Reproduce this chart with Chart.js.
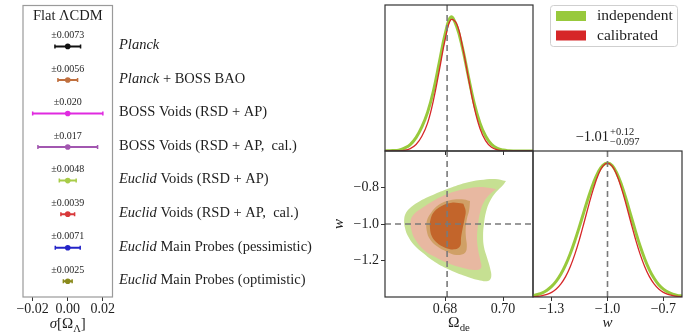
<!DOCTYPE html>
<html>
<head>
<meta charset="utf-8">
<script src="https://cdn.jsdelivr.net/npm/chart.js@4.4.0/dist/chart.umd.min.js"></script>
<style>
  body { margin: 0; background: #fff; }
  #wrap { position: relative; width: 684px; height: 336px; }
  #wrap canvas { position: absolute; left: 0; top: 0; }
</style>
</head>
<body>
<div id="wrap">
  <canvas id="summary" width="684" height="336"></canvas>
  <canvas id="omegaPdf" width="684" height="336"></canvas>
  <canvas id="contour" width="684" height="336"></canvas>
  <canvas id="wPdf" width="684" height="336"></canvas>
</div>
<script>
// Left panel: 1-sigma forecasts on Omega_Lambda
const probeItalic = ['Planck', 'Planck', '', '', 'Euclid', 'Euclid', 'Euclid', 'Euclid'];
const probeRest = ['', ' + BOSS BAO', 'BOSS Voids (RSD + AP)', 'BOSS Voids (RSD + AP,  cal.)',
  ' Voids (RSD + AP)', ' Voids (RSD + AP,  cal.)', ' Main Probes (pessimistic)', ' Main Probes (optimistic)'];
const sigmaOmegaL = [0.0073, 0.0056, 0.020, 0.017, 0.0048, 0.0039, 0.0071, 0.0025];
const sigmaText = ['±0.0073', '±0.0056', '±0.020', '±0.017', '±0.0048', '±0.0039', '±0.0071', '±0.0025'];
const probeColors = ['#111111', '#c0703f', '#e02ae0', '#a257b0', '#a8cc48', '#d8383a', '#2424c8', '#8a8a1c'];
const summaryTicks = [-0.02, 0.00, 0.02];

// Corner plot: 1D posteriors
const seriesLabels = ['independent', 'calibrated'];
const seriesColors = ['#98c93c', '#d62728'];
const omegaGrid = [0.658, 0.660, 0.662, 0.664, 0.666, 0.668, 0.670, 0.672, 0.674, 0.676, 0.678, 0.680, 0.682, 0.684,
  0.686, 0.688, 0.690, 0.692, 0.694, 0.696, 0.698, 0.700, 0.702, 0.704, 0.706, 0.708, 0.710, 0.712];
const omegaIndependent = [0, 0.001, 0.003, 0.006, 0.022, 0.048, 0.10, 0.18, 0.29, 0.45, 0.66, 0.87, 1.00, 0.93,
  0.77, 0.56, 0.36, 0.21, 0.11, 0.05, 0.02, 0.007, 0.002, 0.0005, 0, 0, 0, 0];
const omegaCalibrated = [0, 0, 0, 0.001, 0.005, 0.018, 0.048, 0.11, 0.21, 0.38, 0.60, 0.83, 0.98, 0.95,
  0.78, 0.55, 0.33, 0.17, 0.075, 0.028, 0.009, 0.002, 0, 0, 0, 0, 0, 0];
const wGrid = [-1.400, -1.375, -1.350, -1.325, -1.300, -1.275, -1.250, -1.225, -1.200, -1.175, -1.150,
  -1.125, -1.100, -1.075, -1.050, -1.025, -1.000, -0.975, -0.950, -0.925, -0.900, -0.875, -0.850,
  -0.825, -0.800, -0.775, -0.750, -0.725, -0.700, -0.675, -0.650, -0.625, -0.600];
const wIndependent = [0.011, 0.019, 0.031, 0.051, 0.079, 0.118, 0.171, 0.239, 0.323, 0.421, 0.529,
  0.643, 0.754, 0.853, 0.932, 0.983, 1.000, 0.981, 0.924, 0.838, 0.730, 0.611, 0.492,
  0.381, 0.284, 0.203, 0.140, 0.092, 0.059, 0.036, 0.021, 0.012, 0.007];
const wCalibrated = [0.003, 0.005, 0.011, 0.020, 0.035, 0.060, 0.098, 0.152, 0.226, 0.320, 0.433,
  0.560, 0.690, 0.811, 0.911, 0.977, 1.000, 0.977, 0.911, 0.811, 0.690, 0.560, 0.433,
  0.320, 0.226, 0.152, 0.098, 0.060, 0.035, 0.020, 0.011, 0.005, 0.003];
const wSummary = ['−1.01', '+0.12', '−0.097'];

// Corner plot: axes
const omegaTicks = [0.68, 0.70];
const wTicks2D = [-1.2, -1.0, -0.8];
const wTicks = [-1.3, -1.0, -0.7];
const fiducialOmega = 0.6807;
const fiducialW = -1.0;

// Corner plot: 2D contour outlines (Omega_de, w)
const indep95Omega = [0.7010, 0.6972, 0.6921, 0.6869, 0.6817, 0.6765, 0.6714, 0.6683, 0.6665, 0.6659, 0.6662,
  0.6672, 0.6693, 0.6724, 0.6765, 0.6817, 0.6869, 0.6914, 0.6948, 0.6959, 0.6955, 0.6945, 0.6934, 0.6931,
  0.6934, 0.6941, 0.6955, 0.6976, 0.7000];
const indep95W = [-0.764, -0.753, -0.759, -0.775, -0.803, -0.836, -0.874, -0.907, -0.940, -0.978, -1.022,
  -1.066, -1.115, -1.159, -1.208, -1.252, -1.285, -1.307, -1.312, -1.290, -1.241, -1.186, -1.126, -1.066,
  -1.000, -0.934, -0.874, -0.825, -0.786];
const cal95Omega = [0.6976, 0.6921, 0.6869, 0.6817, 0.6765, 0.6721, 0.6693, 0.6681, 0.6684, 0.6696, 0.6731,
  0.6772, 0.6817, 0.6862, 0.6903, 0.6924, 0.6921, 0.6914, 0.6910, 0.6914, 0.6921, 0.6934, 0.6955];
const cal95W = [-0.808, -0.797, -0.808, -0.830, -0.868, -0.912, -0.945, -0.984, -1.033, -1.082, -1.148,
  -1.186, -1.219, -1.241, -1.252, -1.241, -1.197, -1.142, -1.077, -1.000, -0.934, -0.879, -0.836];
const indep68Omega = [0.6886, 0.6857, 0.6817, 0.6777, 0.6752, 0.6737, 0.6737, 0.6748, 0.6771, 0.6806, 0.6840,
  0.6869, 0.6875, 0.6872, 0.6871, 0.6875, 0.6883];
const indep68W = [-0.874, -0.865, -0.870, -0.896, -0.938, -0.984, -1.038, -1.084, -1.121, -1.152, -1.170,
  -1.157, -1.121, -1.075, -1.029, -0.974, -0.925];
const cal68Omega = [0.6863, 0.6823, 0.6788, 0.6763, 0.6750, 0.6748, 0.6754, 0.6771, 0.6800, 0.6834, 0.6852,
  0.6855, 0.6860, 0.6867, 0.6871];
const cal68W = [-0.889, -0.883, -0.901, -0.932, -0.974, -1.020, -1.066, -1.102, -1.130, -1.139, -1.121,
  -1.075, -1.029, -0.974, -0.929];

const SERIF = '"Liberation Serif", "Times New Roman", serif';
const INK = '#1e1e1e';
const tickFont = { family: SERIF, size: 14 };
const fmt = (v, d) => (v < 0 ? '−' : '') + Math.abs(v).toFixed(d);

function fontOf(size, italic) {
  return (italic ? 'italic ' : '') + size + 'px ' + SERIF;
}

// parts: [text, kind] with kind 'n' (roman), 'i' (italic) or 'sub'
function drawRich(ctx, parts, x, y, size, align) {
  const sizes = parts.map(p => p[1] === 'sub' ? size * 0.7 : size);
  let total = 0;
  const widths = parts.map((p, i) => {
    ctx.font = fontOf(sizes[i], p[1] === 'i');
    const w = ctx.measureText(p[0]).width;
    total += w;
    return w;
  });
  let cx = align === 'left' ? x : x - total / 2;
  ctx.textAlign = 'left';
  parts.forEach((p, i) => {
    ctx.font = fontOf(sizes[i], p[1] === 'i');
    ctx.fillText(p[0], cx, p[1] === 'sub' ? y + size * 0.25 : y);
    cx += widths[i];
  });
}

const framePlugin = {
  id: 'frame',
  afterDraw(chart, args, opts) {
    const { ctx, chartArea: a } = chart;
    ctx.save();
    ctx.strokeStyle = opts.color || '#333';
    ctx.lineWidth = opts.width || 1;
    ctx.strokeRect(a.left, a.top, a.right - a.left, a.bottom - a.top);
    ctx.restore();
  }
};
Chart.register(framePlugin);

function fixedTicks(values) {
  return scale => { scale.ticks = values.map(v => ({ value: v })); };
}

function xAxis(min, max, ticks, height, showLabels, decimals) {
  return {
    type: 'linear', min, max,
    afterBuildTicks: fixedTicks(ticks),
    afterFit: scale => { scale.height = height; },
    ticks: { display: showLabels, font: tickFont, color: INK, padding: 0, maxRotation: 0, autoSkip: false,
      callback: v => fmt(v, decimals) },
    grid: { drawOnChartArea: false, tickLength: 4, color: '#333' },
    border: { display: false }
  };
}

function baseOptions(padding, frameColor) {
  return {
    responsive: false,
    animation: false,
    events: [],
    devicePixelRatio: 1,
    layout: { padding },
    plugins: { legend: { display: false }, tooltip: { enabled: false }, frame: { color: frameColor, width: 1.2 } }
  };
}

function dashedLine(points) {
  return { data: points, showLine: true, borderColor: '#7a7a7a', borderWidth: 1.6, borderDash: [6, 4],
    pointRadius: 0 };
}

function curve(xs, ys, color, width) {
  return { data: xs.map((x, i) => ({ x, y: ys[i] })), showLine: true, borderColor: color,
    borderWidth: width, pointRadius: 0, tension: 0.4 };
}

function contour(os, ws, color) {
  const pts = os.map((o, i) => ({ x: o, y: ws[i] }));
  pts.push(pts[0]);
  return { data: pts, showLine: true, fill: 'shape', backgroundColor: color, borderWidth: 0,
    borderColor: color, pointRadius: 0, tension: 0.4 };
}

// ---------- left summary panel ----------
const summaryDatasets = sigmaOmegaL.map((s, i) => ({
  data: [{ x: -s, y: i }, { x: 0, y: i }, { x: s, y: i }],
  showLine: true,
  borderColor: probeColors[i],
  backgroundColor: probeColors[i],
  borderWidth: 2,
  pointStyle: ['line', 'circle', 'line'],
  pointRotation: [90, 0, 90],
  pointRadius: [2, 2.8, 2],
  pointBorderWidth: [1.5, 0, 1.5]
}));

const summaryText = {
  id: 'summaryText',
  afterDraw(chart) {
    const { ctx, chartArea: a, scales: { x, y } } = chart;
    const cx = x.getPixelForValue(0);
    ctx.save();
    ctx.fillStyle = INK;
    ctx.textBaseline = 'middle';
    drawRich(ctx, [['Flat ΛCDM', 'n']], cx, a.top + 11, 14.5);
    sigmaOmegaL.forEach((s, i) => {
      const py = y.getPixelForValue(i);
      ctx.font = fontOf(10);
      ctx.textAlign = 'center';
      ctx.fillText(sigmaText[i], cx, py - 11);
      const parts = [];
      if (probeItalic[i]) parts.push([probeItalic[i], 'i']);
      if (probeRest[i]) parts.push([probeRest[i], 'n']);
      drawRich(ctx, parts, a.right + 6.5, py - 1, 14.5, 'left');
    });
    ctx.textBaseline = 'alphabetic';
    drawRich(ctx, [['σ', 'i'], ['[Ω', 'n'], ['Λ', 'sub'], [']', 'n']], cx, a.bottom + 31, 15);
    ctx.restore();
  }
};

new Chart(document.getElementById('summary'), {
  type: 'scatter',
  data: { datasets: summaryDatasets },
  options: {
    ...baseOptions({ left: 23, top: 5, right: 571.5, bottom: 0 }, '#9a9a9a'),
    scales: {
      x: xAxis(-0.0255, 0.0255, summaryTicks, 39, true, 2),
      y: { display: false, reverse: true, min: -1.22, max: 7.47 }
    }
  },
  plugins: [summaryText]
});

// ---------- top: Omega_de posterior + legend ----------
const legendText = {
  id: 'legendText',
  afterDraw(chart) {
    const { ctx } = chart;
    ctx.save();
    ctx.fillStyle = 'rgba(255,255,255,0.9)';
    ctx.strokeStyle = '#cfcfcf';
    ctx.lineWidth = 1;
    ctx.beginPath();
    ctx.roundRect(550.5, 5.5, 127, 41, 3);
    ctx.fill();
    ctx.stroke();
    seriesLabels.forEach((label, i) => {
      const ry = 16 + i * 19.5;
      ctx.fillStyle = seriesColors[i];
      ctx.fillRect(556, ry - 5, 30, 10);
      ctx.fillStyle = INK;
      ctx.font = fontOf(15.5);
      ctx.textAlign = 'left';
      ctx.textBaseline = 'middle';
      ctx.fillText(label, 597, ry);
    });
    ctx.restore();
  }
};

new Chart(document.getElementById('omegaPdf'), {
  type: 'scatter',
  data: {
    datasets: [
      dashedLine([{ x: fiducialOmega, y: 0 }, { x: fiducialOmega, y: 1.09 }]),
      curve(omegaGrid, omegaCalibrated, seriesColors[1], 1.3),
      curve(omegaGrid, omegaIndependent, seriesColors[0], 3)
    ]
  },
  options: {
    ...baseOptions({ left: 385, top: 5, right: 151, bottom: 0 }, '#333'),
    scales: {
      x: xAxis(0.6593, 0.7103, omegaTicks, 185, false, 2),
      y: { display: false, min: 0, max: 1.09 }
    }
  },
  plugins: [legendText]
});

// ---------- 2D contours ----------
const contourText = {
  id: 'contourText',
  afterDraw(chart) {
    const { ctx, chartArea: a } = chart;
    ctx.save();
    ctx.fillStyle = INK;
    ctx.textBaseline = 'alphabetic';
    drawRich(ctx, [['Ω', 'n'], ['de', 'sub']], (a.left + a.right) / 2, a.bottom + 30, 15.5);
    ctx.translate(a.left - 46, (a.top + a.bottom) / 2);
    ctx.rotate(-Math.PI / 2);
    ctx.textBaseline = 'middle';
    drawRich(ctx, [['w', 'i']], 0, 0, 15);
    ctx.restore();
  }
};

new Chart(document.getElementById('contour'), {
  type: 'scatter',
  data: {
    datasets: [
      dashedLine([{ x: fiducialOmega, y: -1.4 }, { x: fiducialOmega, y: -0.6 }]),
      dashedLine([{ x: 0.6593, y: fiducialW }, { x: 0.7103, y: fiducialW }]),
      contour(cal68Omega, cal68W, '#c3652b'),
      contour(indep68Omega, indep68W, '#d0a066'),
      contour(cal95Omega, cal95W, '#e8b8a1'),
      contour(indep95Omega, indep95W, '#c6e092')
    ]
  },
  options: {
    ...baseOptions({ left: 0, top: 151, right: 151, bottom: 0 }, '#333'),
    scales: {
      x: xAxis(0.6593, 0.7103, omegaTicks, 39, true, 2),
      y: {
        type: 'linear', min: -1.4, max: -0.6,
        afterBuildTicks: fixedTicks(wTicks2D),
        afterFit: scale => { scale.width = 385; },
        ticks: { font: tickFont, color: INK, padding: 2, callback: v => fmt(v, 1) },
        grid: { drawOnChartArea: false, tickLength: 4, color: '#333' },
        border: { display: false }
      }
    }
  },
  plugins: [contourText]
});

// ---------- right: w posterior ----------
const wText = {
  id: 'wText',
  afterDraw(chart) {
    const { ctx, chartArea: a } = chart;
    const cx = (a.left + a.right) / 2;
    ctx.save();
    ctx.fillStyle = INK;
    ctx.textBaseline = 'alphabetic';
    drawRich(ctx, [['w', 'i']], cx, a.bottom + 30, 15);
    // title: median with asymmetric errors
    ctx.font = fontOf(14.5);
    const mainW = ctx.measureText(wSummary[0]).width;
    ctx.font = fontOf(10.5);
    const supW = Math.max(ctx.measureText(wSummary[1]).width, ctx.measureText(wSummary[2]).width);
    const x0 = cx - (mainW + supW + 1) / 2;
    const by = a.top - 10;
    ctx.textAlign = 'left';
    ctx.font = fontOf(14.5);
    ctx.fillText(wSummary[0], x0, by);
    ctx.font = fontOf(10.5);
    ctx.fillText(wSummary[1], x0 + mainW + 1, by - 6);
    ctx.fillText(wSummary[2], x0 + mainW + 1, by + 4);
    ctx.restore();
  }
};

new Chart(document.getElementById('wPdf'), {
  type: 'scatter',
  data: {
    datasets: [
      dashedLine([{ x: fiducialW, y: 0 }, { x: fiducialW, y: 1.09 }]),
      curve(wGrid, wCalibrated, seriesColors[1], 1.3),
      curve(wGrid, wIndependent, seriesColors[0], 3)
    ]
  },
  options: {
    ...baseOptions({ left: 533, top: 151, right: 2, bottom: 0 }, '#333'),
    scales: {
      x: xAxis(-1.4, -0.6, wTicks, 39, true, 1),
      y: { display: false, min: 0, max: 1.09 }
    }
  },
  plugins: [wText]
});
</script>
</body>
</html>
